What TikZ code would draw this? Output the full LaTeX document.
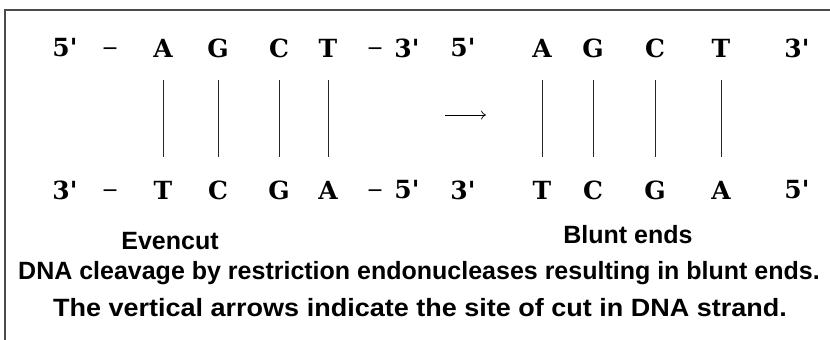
\documentclass[tikz,border=0pt]{standalone}
\usepackage{fontspec}
\usetikzlibrary{arrows.meta}
\newfontfamily\seqfont{DejaVu Serif}
\newfontfamily\dashfont{Liberation Serif}
\newfontfamily\capfont{Liberation Sans}
\begin{document}
\begin{tikzpicture}[x=1pt,y=1pt,
  base/.style={font=\seqfont\bfseries\fontsize{25}{30}\selectfont, inner sep=0pt, anchor=center},
  dashmark/.style={font=\dashfont\bfseries\fontsize{25}{30}\selectfont, inner sep=0pt, anchor=center},
  bond/.style={draw=black!85, line width=0.8pt, shorten <=32pt, shorten >=33pt},
  capt/.style={font=\capfont\bfseries\fontsize{25}{30}\selectfont, inner sep=0pt, anchor=center},
  frame/.style={draw=black!70, line width=1.6pt}]
\useasboundingbox (0,0) rectangle (830,-340);
% frame
\coordinate (f1) at (5,-340);
\coordinate (f2) at (5,-10);
\coordinate (f3) at (830,-10);
\draw[frame] (f1) -- (f2) -- (f3);
% top strand
\node[base] (t5)  at (65,-48)  {5'};
\node[dashmark] (td1) at (110,-51) {–};
\node[base] (tA)  at (163,-48) {A};
\node[base] (tG)  at (218,-48) {G};
\node[base] (tC)  at (279,-48) {C};
\node[base] (tT)  at (328,-48) {T};
\node[dashmark] (td2) at (375,-51) {–};
\node[base] (t3)  at (407,-48) {3'};
\node[base] (r5)  at (463,-48) {5'};
\node[base] (rA)  at (542,-48) {A};
\node[base] (rG)  at (593,-48) {G};
\node[base] (rC)  at (655,-48) {C};
\node[base] (rT)  at (721,-48) {T};
\node[base] (r3)  at (797,-48) {3'};
% bottom strand
\node[base] (b3)  at (65,-190)  {3'};
\node[dashmark] (bd1) at (110,-193) {–};
\node[base] (bT)  at (163,-190) {T};
\node[base] (bC)  at (218,-190) {C};
\node[base] (bG)  at (279,-190) {G};
\node[base] (bA)  at (328,-190) {A};
\node[dashmark] (bd2) at (375,-193) {–};
\node[base] (b5)  at (407,-190) {5'};
\node[base] (s3)  at (463,-190) {3'};
\node[base] (sT)  at (542,-190) {T};
\node[base] (sC)  at (593,-190) {C};
\node[base] (sG)  at (655,-190) {G};
\node[base] (sA)  at (721,-190) {A};
\node[base] (s5)  at (797,-190) {5'};
% bonds
\draw[bond] (tA.center) -- (bT.center);
\draw[bond] (tG.center) -- (bC.center);
\draw[bond] (tC.center) -- (bG.center);
\draw[bond] (tT.center) -- (bA.center);
\draw[bond] (rA.center) -- (sT.center);
\draw[bond] (rG.center) -- (sC.center);
\draw[bond] (rC.center) -- (sG.center);
\draw[bond] (rT.center) -- (sA.center);
% arrow
\coordinate (a1) at (445,-115);
\coordinate (a2) at (486,-115);
\draw[line width=0.7pt, -{To[length=5pt,width=9pt]}] (a1) -- (a2);
% captions
\node[capt] (ev) at (170,-241) {Evencut};
\node[capt] (bl) at (628,-235) {Blunt ends};
\node[capt] (l1) at (419,-273) {DNA cleavage by restriction endonucleases resulting in blunt ends.};
\node[capt, font=\capfont\bfseries\fontsize{25}{30}\selectfont\addfontfeature{FakeStretch=1.08}] (l2) at (420,-308) {The vertical arrows indicate the site of cut in DNA strand.};
\end{tikzpicture}
\end{document}
